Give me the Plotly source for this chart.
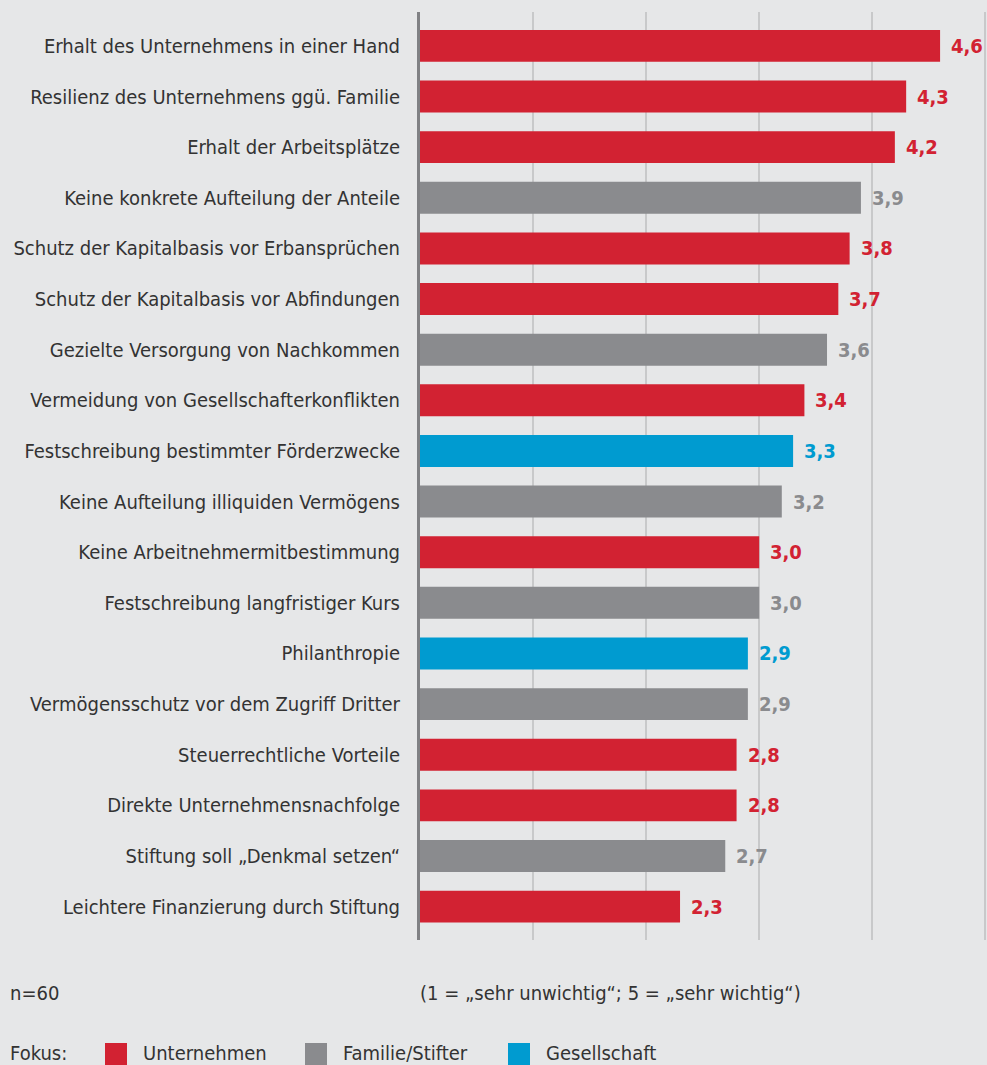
import plotly.graph_objects as go

categories = [
    "Erhalt des Unternehmens in einer Hand",
    "Resilienz des Unternehmens ggü. Familie",
    "Erhalt der Arbeitsplätze",
    "Keine konkrete Aufteilung der Anteile",
    "Schutz der Kapitalbasis vor Erbansprüchen",
    "Schutz der Kapitalbasis vor Abfindungen",
    "Gezielte Versorgung von Nachkommen",
    "Vermeidung von Gesellschafterkonflikten",
    "Festschreibung bestimmter Förderzwecke",
    "Keine Aufteilung illiquiden Vermögens",
    "Keine Arbeitnehmermitbestimmung",
    "Festschreibung langfristiger Kurs",
    "Philanthropie",
    "Vermögensschutz vor dem Zugriff Dritter",
    "Steuerrechtliche Vorteile",
    "Direkte Unternehmensnachfolge",
    "Stiftung soll „Denkmal setzen“",
    "Leichtere Finanzierung durch Stiftung",
]
values = [4.6, 4.3, 4.2, 3.9, 3.8, 3.7, 3.6, 3.4, 3.3, 3.2, 3.0, 3.0, 2.9, 2.9, 2.8, 2.8, 2.7, 2.3]
focus = ["U", "U", "U", "F", "U", "U", "F", "U", "G", "F", "U", "F", "G", "F", "U", "U", "F", "U"]

focus_names = {"U": "Unternehmen", "F": "Familie/Stifter", "G": "Gesellschaft"}
focus_colors = {"U": "#d22232", "F": "#8a8b8e", "G": "#009bd0"}

FONT = "Liberation Sans Narrow, DejaVu Sans Condensed, Arial Narrow, sans-serif"
TXT = "#333333"
BG = "#e6e7e8"
FS = 20

colors = [focus_colors[f] for f in focus]

fig = go.Figure()
fig.add_trace(go.Bar(
    x=values, y=categories, orientation="h",
    marker=dict(color=colors, line=dict(width=0)),
    width=0.63, showlegend=False, hoverinfo="x+y",
))

for v, c, col in zip(values, categories, colors):
    fig.add_annotation(
        x=v, y=c, xref="x", yref="y", text="<b>" + f"{v:.1f}".replace(".", ",") + "</b>",
        showarrow=False, xanchor="left", yanchor="middle", xshift=9,
        font=dict(family=FONT, size=FS, color=col),
    )

# footer texts
fig.add_annotation(x=0, y=0, xref="paper", yref="paper", text="n=60", showarrow=False,
                   xanchor="left", yanchor="middle", xshift=-412, yshift=-53,
                   font=dict(family=FONT, size=FS, color=TXT))
fig.add_annotation(x=0, y=0, xref="paper", yref="paper",
                   text="(1 = „sehr unwichtig“; 5 = „sehr wichtig“)", showarrow=False,
                   xanchor="left", yanchor="middle", xshift=-2, yshift=-53,
                   font=dict(family=FONT, size=FS, color=TXT))

# legend
fig.add_annotation(x=0, y=0, xref="paper", yref="paper", text="Fokus:", showarrow=False,
                   xanchor="left", yanchor="middle", xshift=-412, yshift=-113,
                   font=dict(family=FONT, size=FS, color=TXT))
legend_pos = [("U", 105), ("F", 305), ("G", 508)]
for key, px in legend_pos:
    fig.add_shape(type="rect", xref="paper", yref="paper", xsizemode="pixel", ysizemode="pixel",
                  xanchor=0, yanchor=0, x0=px - 420, x1=px - 420 + 22, y0=-103, y1=-126,
                  fillcolor=focus_colors[key], line=dict(width=0))
    fig.add_annotation(x=0, y=0, xref="paper", yref="paper", text=focus_names[key], showarrow=False,
                       xanchor="left", yanchor="middle", xshift=px - 420 + 36, yshift=-113,
                       font=dict(family=FONT, size=FS, color=TXT))

fig.update_layout(
    width=987, height=1065,
    margin=dict(l=420, r=0, t=12, b=125),
    paper_bgcolor=BG, plot_bgcolor=BG,
    font=dict(family=FONT, size=FS, color=TXT),
    bargap=0.37,
    xaxis=dict(range=[0, 5.015], tickvals=[1, 2, 3, 4, 5], showticklabels=False,
               showgrid=True, gridcolor="#c8c9ca", gridwidth=2,
               zeroline=False, showline=False, fixedrange=True),
    yaxis=dict(categoryorder="array", categoryarray=categories,
               range=[len(categories) - 1 + 0.66, -0.67],
               showgrid=False, zeroline=False,
               showline=True, linecolor="#808184", linewidth=3,
               ticks="", ticklabelstandoff=13,
               tickfont=dict(family=FONT, size=FS, color=TXT), fixedrange=True),
)

fig.write_html("out.html", config={"displayModeBar": False},
               post_script="document.body.style.margin='0';document.body.style.background='#e6e7e8';")
